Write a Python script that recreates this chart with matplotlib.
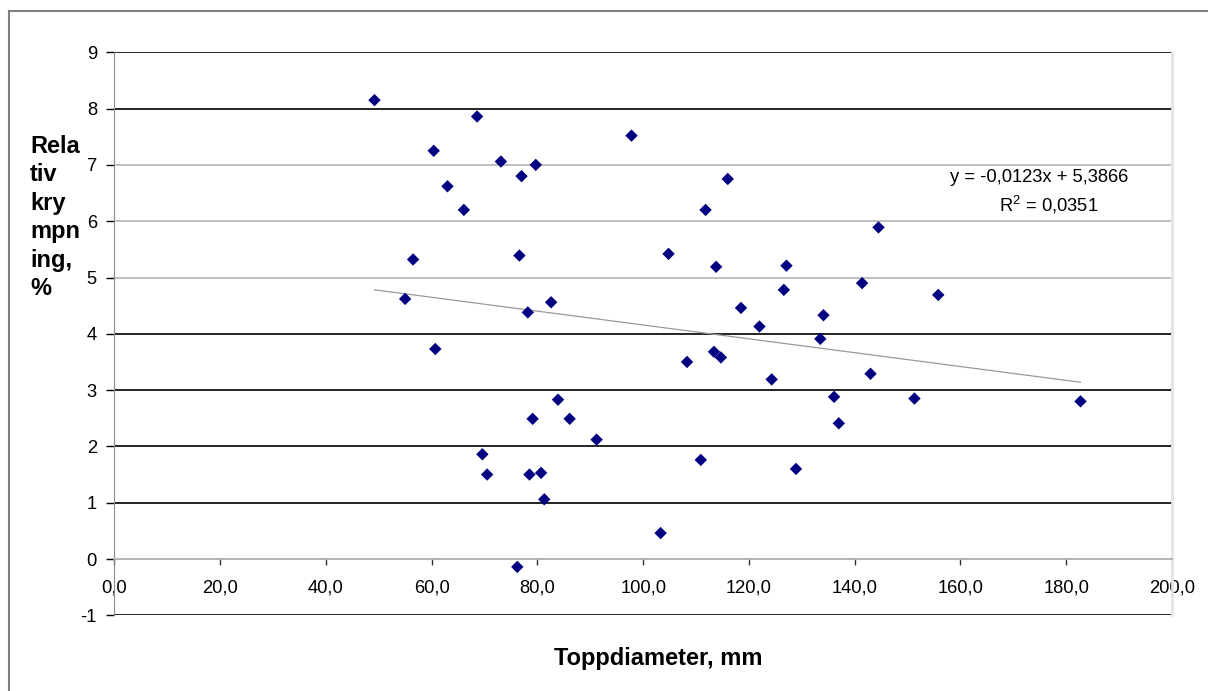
import numpy as np
import matplotlib.pyplot as plt
from matplotlib.lines import Line2D

plt.rcParams['font.family'] = ['Liberation Sans', 'DejaVu Sans']
plt.rcParams['mathtext.fontset'] = 'custom'
plt.rcParams['mathtext.rm'] = 'Liberation Sans'

# data
diameter = [49.2, 55.0, 56.5, 60.4, 60.7, 63.0, 66.1, 68.6, 69.6, 70.5,
            73.1, 76.2, 76.6, 77.0, 78.2, 78.5, 79.1, 79.7, 80.7, 81.3,
            82.6, 83.9, 86.1, 91.2, 97.8, 103.3, 104.8, 108.3, 110.9, 111.8,
            113.4, 113.8, 114.7, 116.0, 118.5, 122.0, 124.3, 126.6, 127.1, 128.9,
            133.5, 134.1, 136.1, 137.0, 141.4, 143.0, 144.5, 151.3, 155.8, 182.7]
shrinkage = [8.15, 4.62, 5.32, 7.25, 3.73, 6.62, 6.20, 7.86, 1.86, 1.50,
             7.06, -0.14, 5.39, 6.80, 4.38, 1.50, 2.49, 7.00, 1.53, 1.06,
             4.56, 2.83, 2.49, 2.12, 7.52, 0.46, 5.42, 3.50, 1.76, 6.20,
             3.68, 5.19, 3.58, 6.75, 4.46, 4.13, 3.19, 4.78, 5.21, 1.60,
             3.91, 4.33, 2.88, 2.41, 4.90, 3.29, 5.89, 2.85, 4.69, 2.80]

slope = -0.0123
intercept = 5.3866
r_squared = 0.0351

x_ticks = [0, 20, 40, 60, 80, 100, 120, 140, 160, 180, 200]
x_tick_labels = ['0,0', '20,0', '40,0', '60,0', '80,0', '100,0',
                 '120,0', '140,0', '160,0', '180,0', '200,0']
y_ticks = [-1, 0, 1, 2, 3, 4, 5, 6, 7, 8, 9]
grid_colors = ['black', None, 'black', 'black', 'black', 'black',
               '#b4b4b4', '#b4b4b4', '#b4b4b4', 'black', 'black']

W, H = 1208, 691
fig = plt.figure(figsize=(W / 100, H / 100), dpi=100)
ax = fig.add_axes([114.3 / W, 1 - 615.3 / H, (1172 - 114.3) / W, (615.3 - 52.3) / H])

for yv, c in zip(y_ticks, grid_colors):
    if c is not None:
        ax.axhline(yv, color=c, lw=1.2, zorder=1)

ax.scatter(diameter, shrinkage, marker='D', s=40, color='#000080',
           edgecolors='none', zorder=3, clip_on=False)

# trendline from the equation shown on the chart
tx = np.array([min(diameter), max(diameter)])
ax.plot(tx, slope * tx + intercept, color='#9a9a9a', lw=0.9, zorder=2)

ax.set_xlim(0, 200)
ax.set_ylim(-1, 9)

ax.spines['top'].set_visible(False)
ax.spines['right'].set_color('#e4e4e4')
ax.spines['right'].set_linewidth(2)
ax.spines['left'].set_color('#8c8c8c')
ax.spines['bottom'].set_position(('data', 0))
ax.spines['bottom'].set_color('#a8a8a8')
ax.spines['bottom'].set_linewidth(1.2)

ax.set_xticks(x_ticks)
ax.set_xticklabels(x_tick_labels)
ax.set_yticks(y_ticks)
ax.set_yticklabels([str(v) for v in y_ticks])
ax.tick_params(axis='x', direction='out', length=4.5, width=1, color='#333333',
               labelsize=13.2, pad=10)
ax.tick_params(axis='y', direction='out', length=5.5, width=1, color='black',
               labelsize=13.2, pad=7)

ax.text(174.9, 6.77, 'y = -0,0123x + 5,3866', fontsize=13.2, ha='center', va='center')
ax.text(176.6, 6.29, 'R$^2$ = %s' % str(r_squared).replace('.', ','),
        fontsize=13.2, ha='center', va='center')

fig.text(30 / W, 1 - 135 / H, 'Rela\ntiv\nkry\nmpn\ning,\n%', fontsize=17,
         fontweight='bold', ha='left', va='top', linespacing=1.3)
fig.text(658 / W, 1 - 659 / H, 'Toppdiameter, mm', fontsize=17,
         fontweight='bold', ha='center', va='center')

# outer chart frame (left and top visible)
fig.add_artist(Line2D([8.5 / W, 8.5 / W], [0, 1 - 11 / H], color='#808080', lw=1.5))
fig.add_artist(Line2D([8.5 / W, 1], [1 - 11 / H, 1 - 11 / H], color='#808080', lw=1.5))

fig.savefig('out.png', dpi=100)
